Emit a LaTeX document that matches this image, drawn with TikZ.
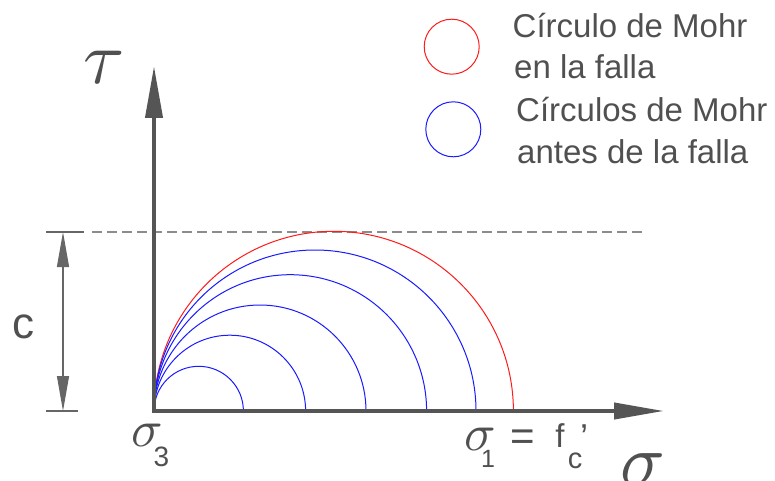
\documentclass[tikz,border=0pt]{standalone}
\usepackage{graphicx}
\usepackage{fontspec}
\setmainfont{Liberation Sans}
\usetikzlibrary{arrows.meta}
\definecolor{axisgray}{HTML}{555555}
\definecolor{txtgray}{HTML}{505050}
\definecolor{dimgray}{HTML}{666666}
\definecolor{dashgray}{HTML}{8C8C8C}
\definecolor{mred}{HTML}{FF1A1A}
\definecolor{mblue}{HTML}{1A1AFF}
\tikzset{
  axis/.style={draw=axisgray, line width=4pt, line join=miter,
    {Triangle[length=52pt,width=17pt]}-{Triangle[length=50pt,width=16pt]}},
  dimline/.style={draw=dimgray, line width=1.2pt,
    {Triangle[length=35pt,width=12pt]}-{Triangle[length=35pt,width=12pt]}},
  tick/.style={draw=dimgray, line width=1.2pt},
  guide/.style={draw=dashgray, line width=1.2pt, dash pattern=on 10pt off 5pt},
  failcircle/.style={draw=mred, line width=1pt},
  precircle/.style={draw=mblue, line width=1pt},
  legcircle/.style={circle, minimum size=55pt, inner sep=0pt, line width=1pt},
  legtext/.style={anchor=base west, inner sep=0pt, text=txtgray, font=\fontsize{33}{40}\selectfont},
  lbl/.style={inner sep=0pt, text=txtgray},
}
\begin{document}
\begin{tikzpicture}[x=1pt,y=1pt]
\useasboundingbox (0,0) rectangle (775,-481);
% axes
\coordinate (O) at (154,-411);
\coordinate (ytip) at (154,-66);
\coordinate (xtip) at (664,-411);
% dashed line at c
\coordinate (dl) at (92,-232);
\coordinate (dr) at (645,-232);
\draw[guide] (dl) -- (dr);
% Mohr circles
\draw[failcircle] (O) arc[start angle=180, end angle=0, radius=179.7];
\foreach \r in {44.7,75.8,106,136.3,161}{
  \draw[precircle] (O) arc[start angle=180, end angle=0, radius=\r];
}
\draw[axis] (ytip) -- (O) -- (xtip);
% dimension c
\coordinate (dtop) at (63,-232);
\coordinate (dbot) at (63,-411);
\coordinate (t1a) at (46,-232);
\coordinate (t1b) at (84,-232);
\coordinate (t2a) at (46,-411);
\coordinate (t2b) at (78,-411);
\draw[tick] (t1a) -- (t1b);
\draw[tick] (t2a) -- (t2b);
\draw[dimline] (dtop) -- (dbot);
\node[lbl, anchor=base, font=\fontsize{44}{44}\selectfont] (clab) at (23.5,-338.5) {c};
% axis labels
\node[lbl] (tau) at (104,-67) {\scalebox{7.5}{$\tau$}};
\node[lbl] (sig) at (643,-470) {\scalebox{7.4}{$\sigma$}};
\node[lbl] (s3) at (147,-435) {\scalebox{5.2}{$\sigma$}};
\node[lbl, font=\fontsize{28}{28}\selectfont] (s3sub) at (161.5,-457) {3};
\node[lbl] (s1) at (480,-439) {\scalebox{5.2}{$\sigma$}};
\node[lbl, font=\fontsize{25}{25}\selectfont] (s1sub) at (488,-459) {1};
\node[lbl, font=\fontsize{42}{42}\selectfont] (eq) at (522.5,-440) {=};
\node[lbl, anchor=base, font=\fontsize{33}{33}\selectfont] (f) at (560,-447) {f};
\node[lbl, anchor=base, font=\fontsize{29}{29}\selectfont] (csub) at (575,-468) {c};
\node[lbl, anchor=north, font=\fontsize{36}{36}\selectfont] (prime) at (584,-425) {'};
% legend
\node[legcircle, draw=mred] (lc1) at (451.7,-46.7) {};
\node[legcircle, draw=mblue] (lc2) at (453.3,-129.3) {};
\node[legtext] (l1a) at (512.5,-38) {Círculo de Mohr};
\node[legtext] (l1b) at (514,-78.3) {en la falla};
\node[legtext] (l2a) at (516,-121.7) {Círculos de Mohr};
\node[legtext] (l2b) at (517,-163.3) {antes de la falla};
\end{tikzpicture}
\end{document}
